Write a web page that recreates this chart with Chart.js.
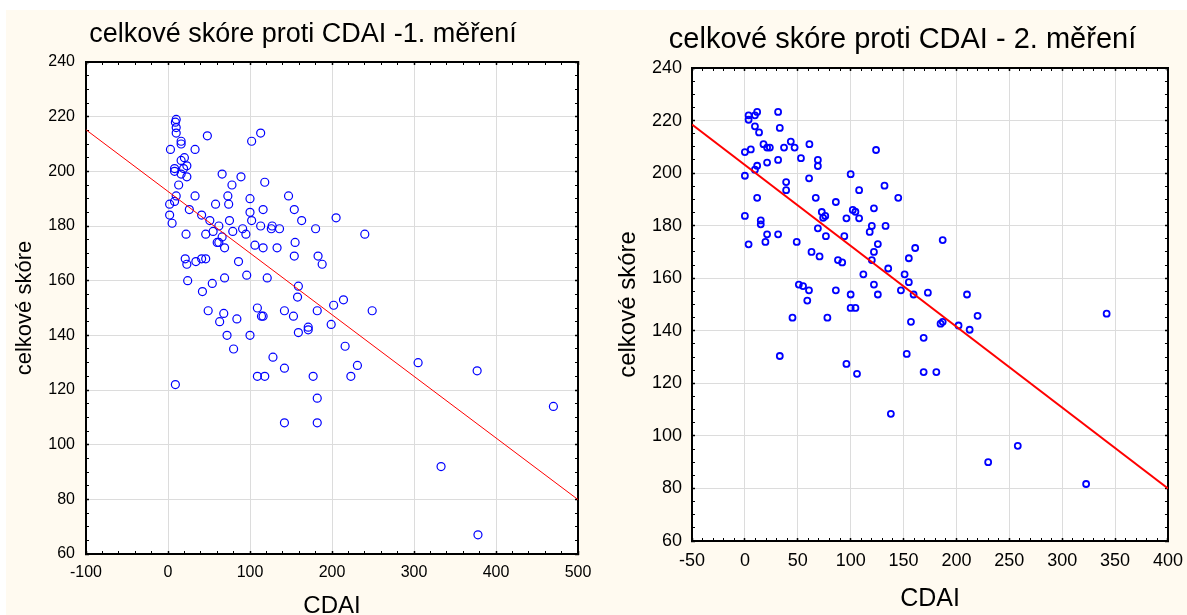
<!DOCTYPE html>
<html>
<head>
<meta charset="utf-8">
<script src="https://cdn.jsdelivr.net/npm/chart.js@4"></script>
<style>
    html, body { margin: 0; padding: 0; background: #fff; overflow: hidden; }
    body { width: 1187px; height: 615px; position: relative; }
    .panel-bg { position: absolute; left: 6px; top: 10px; right: 0; bottom: 0; background: #fffaf0; }
    canvas { position: absolute; top: 0; }
    #chart-1 { left: 0; }
    #chart-2 { left: 610px; }
</style>
</head>
<body>
<div class="panel-bg"></div>
<canvas id="chart-1" width="606" height="625"></canvas>
<canvas id="chart-2" width="585" height="625"></canvas>
<script>
// 1. měření
const cdai1 = [10, 9, 10, 10, 48, 113, 102, 16, 16, 3, 33, 20, 16, 8, 8, 23, 19, 16, 23, 66,
    89, 78, 13, 118, 10, 33, 73, 147, 100, 2, 8, 58, 74, 26, 116, 154, 100, 2, 41, 5,
    51, 75, 102, 163, 205, 62, 113, 127, 126, 136, 91, 180, 22, 46, 55, 79, 95, 240, 66, 60,
    62, 155, 69, 106, 116, 133, 154, 183, 188, 21, 23, 34, 41, 46, 86, 24, 69, 96, 121, 159,
    42, 54, 158, 214, 202, 49, 68, 63, 84, 109, 114, 116, 142, 153, 182, 249, 72, 100, 80, 159,
    171, 171, 199, 128, 216, 142, 231, 305, 377, 109, 118, 177, 223, 9, 182, 470, 142, 182, 333, 378];
const skore1 = [219, 218, 216, 214, 213, 214, 211, 211, 210, 208, 208, 205, 204, 201, 200, 202, 201, 199, 198, 199,
    198, 195, 195, 196, 191, 191, 191, 191, 190, 188, 189, 188, 188, 186, 186, 186, 185, 184, 184, 181,
    182, 182, 182, 182, 183, 180, 180, 180, 179, 179, 179, 179, 177, 177, 178, 178, 177, 177, 176, 174,
    174, 174, 172, 173, 172, 172, 169, 169, 166, 168, 166, 167, 168, 168, 167, 160, 161, 162, 161, 158,
    156, 159, 154, 153, 151, 149, 148, 145, 146, 150, 147, 147, 149, 147, 149, 149, 140, 140, 135, 141,
    143, 142, 144, 132, 136, 128, 129, 130, 127, 125, 125, 125, 125, 122, 117, 114, 108, 108, 92, 67];
const fit1X = [-100, 500];
const fit1Y = [215.2, 79.9];

// 2. měření
const cdai2 = [3.5, 3.5, 9.5, 11.6, 31.4, 9.5, 33, 13.4, 17.6, 21, 23.6, 43.4, 37, 47, 61, 124, 0, 5.6, 31.4, 21,
    53, 69, 69, 11.6, 9.5, 0, 60.7, 100, 132, 39, 39, 108, 11.6, 67, 145, 86, 122, 102, 104.5, 72.7,
    76, 74, 96, 108, 0, 15, 15, 69, 120, 133, 118, 21, 31.4, 76.6, 94, 187, 3.5, 19.4, 49, 125.7,
    161, 63, 122, 70.6, 155, 88, 92, 120, 135.5, 112, 151, 155, 122, 51, 55, 60.6, 86, 147.5, 100, 125.7,
    159.5, 173, 210, 59, 100, 104.5, 45, 78, 157, 185, 187, 202, 212.5, 220, 342, 169, 33, 153, 96, 106,
    169, 181, 138, 230, 258, 322.6];
const skore2 = [222, 220.3, 222, 223.3, 223.3, 217.8, 217.2, 215.5, 211, 209.7, 209.7, 212, 209.7, 209.7, 211, 208.8, 208, 209, 205, 204,
    205.7, 205, 202.7, 202.8, 201.3, 199, 198, 199.6, 195.2, 196.6, 193.5, 193.5, 190.6, 190.6, 190.6, 189, 186.6, 186, 185.3, 185.2,
    183.7, 183, 182.8, 182.8, 183.7, 182, 180.5, 179, 179.9, 179.9, 177.6, 176.7, 176.7, 176, 176, 174.5, 172.9, 173.8, 173.8, 173,
    171.5, 170, 170, 168.3, 167.6, 166.9, 166, 166.9, 163.7, 161.5, 161.5, 158.5, 157.6, 157.6, 157, 155.4, 155.4, 155.4, 153.8, 153.8,
    153.8, 154.5, 153.8, 151.5, 148.7, 148.7, 145, 145, 143.4, 142.7, 143.4, 142, 140.4, 145.7, 146.5, 137.3, 130.4, 131.2, 127.4, 123.6,
    124.3, 124.3, 108.4, 90, 96.2, 81.7];
const fit2X = [-50, 400];
const fit2Y = [218.5, 80];

const yTicks = [60, 240];
const x1Range = [-100, 500];
const x2Range = [-50, 400];

Chart.defaults.font.family = 'Arial, "Liberation Sans", sans-serif';
Chart.defaults.color = '#000';

const toPoints = (xs, ys) => xs.map((x, i) => ({ x: x, y: ys[i] }));

// white plot area inside the cream panel
const plotBackground = {
    id: 'plotBackground',
    beforeDraw(chart) {
        const { ctx, chartArea: a } = chart;
        ctx.save();
        ctx.fillStyle = '#fff';
        ctx.fillRect(a.left, a.top, a.width, a.height);
        ctx.restore();
    }
};

// builds one framed axis; minor ticks share the axis, only majors get labels and grid lines
function frameAxis(s) {
    return {
        type: 'linear',
        position: s.position,
        min: s.min,
        max: s.max,
        afterFit: scale => {
            if (s.width !== undefined) scale.width = s.width;
            if (s.height !== undefined) scale.height = s.height;
        },
        border: { display: true, color: '#000', width: 2 },
        grid: {
            drawOnChartArea: !!s.labels,
            color: ctx => ctx.tick && ctx.tick.value % s.major === 0 ? '#dcdcdc' : 'rgba(0,0,0,0)',
            lineWidth: 1,
            tickColor: '#000',
            tickLength: -3,
            tickWidth: ctx => ctx.tick && ctx.tick.value % s.major === 0 ? 1.5 : 1
        },
        ticks: {
            display: !!s.labels,
            stepSize: s.minor,
            autoSkip: false,
            maxRotation: 0,
            padding: s.padding || 0,
            font: { size: s.fontSize },
            callback: v => v % s.major === 0 ? String(v) : ''
        },
        title: s.title ? {
            display: true,
            text: s.title,
            font: { size: s.titleSize },
            padding: s.titlePadding
        } : { display: false }
    };
}

new Chart(document.getElementById('chart-1').getContext('2d'), {
    type: 'scatter',
    data: {
        datasets: [{
            data: toPoints(fit1X, fit1Y),
            showLine: true,
            borderColor: '#ff0000',
            borderWidth: 1,
            pointRadius: 0
        }, {
            data: toPoints(cdai1, skore1),
            borderColor: '#0000ff',
            backgroundColor: 'rgba(0,0,0,0)',
            borderWidth: 1.2,
            pointRadius: 4
        }]
    },
    options: {
        responsive: false,
        animation: false,
        layout: { padding: 0 },
        plugins: {
            legend: { display: false },
            tooltip: { enabled: false },
            title: {
                display: true,
                text: 'celkové skóre proti CDAI -1. měření',
                color: '#000',
                font: { size: 27, weight: 'normal' },
                padding: { top: 18.4, bottom: 0 }
            }
        },
        scales: {
            x: frameAxis({ position: 'bottom', min: x1Range[0], max: x1Range[1], minor: 20, major: 100,
                labels: true, fontSize: 16, padding: 12, height: 71,
                title: 'CDAI', titleSize: 24, titlePadding: { top: 4, bottom: 4 } }),
            y: frameAxis({ position: 'left', min: yTicks[0], max: yTicks[1], minor: 5, major: 20,
                labels: true, fontSize: 16, padding: 14, width: 86,
                title: 'celkové skóre', titleSize: 22, titlePadding: { top: 12, bottom: 12 } }),
            xTop: frameAxis({ position: 'top', min: x1Range[0], max: x1Range[1], minor: 20, major: 100, height: 11.2 }),
            yRight: frameAxis({ position: 'right', min: yTicks[0], max: yTicks[1], minor: 5, major: 20, width: 28 })
        }
    },
    plugins: [plotBackground]
});

new Chart(document.getElementById('chart-2').getContext('2d'), {
    type: 'scatter',
    data: {
        datasets: [{
            data: toPoints(fit2X, fit2Y),
            showLine: true,
            borderColor: '#ff0000',
            borderWidth: 2,
            pointRadius: 0
        }, {
            data: toPoints(cdai2, skore2),
            borderColor: '#0000ff',
            backgroundColor: 'rgba(0,0,0,0)',
            borderWidth: 1.8,
            pointRadius: 3
        }]
    },
    options: {
        responsive: false,
        animation: false,
        layout: { padding: 0 },
        plugins: {
            legend: { display: false },
            tooltip: { enabled: false },
            title: {
                display: true,
                text: 'celkové skóre proti CDAI - 2. měření',
                color: '#000',
                font: { size: 29, weight: 'normal' },
                padding: { top: 22.6, bottom: 0 }
            }
        },
        scales: {
            x: frameAxis({ position: 'bottom', min: x2Range[0], max: x2Range[1], minor: 10, major: 50,
                labels: true, fontSize: 18, padding: 12, height: 84,
                title: 'CDAI', titleSize: 25, titlePadding: { top: 4, bottom: 10.7 } }),
            y: frameAxis({ position: 'left', min: yTicks[0], max: yTicks[1], minor: 5, major: 20,
                labels: true, fontSize: 18, padding: 13, width: 82,
                title: 'celkové skóre', titleSize: 24, titlePadding: { top: 4.3, bottom: 4.3 } }),
            xTop: frameAxis({ position: 'top', min: x2Range[0], max: x2Range[1], minor: 10, major: 50, height: 10.6 }),
            yRight: frameAxis({ position: 'right', min: yTicks[0], max: yTicks[1], minor: 5, major: 20, width: 25 })
        }
    },
    plugins: [plotBackground]
});
</script>
</body>
</html>
